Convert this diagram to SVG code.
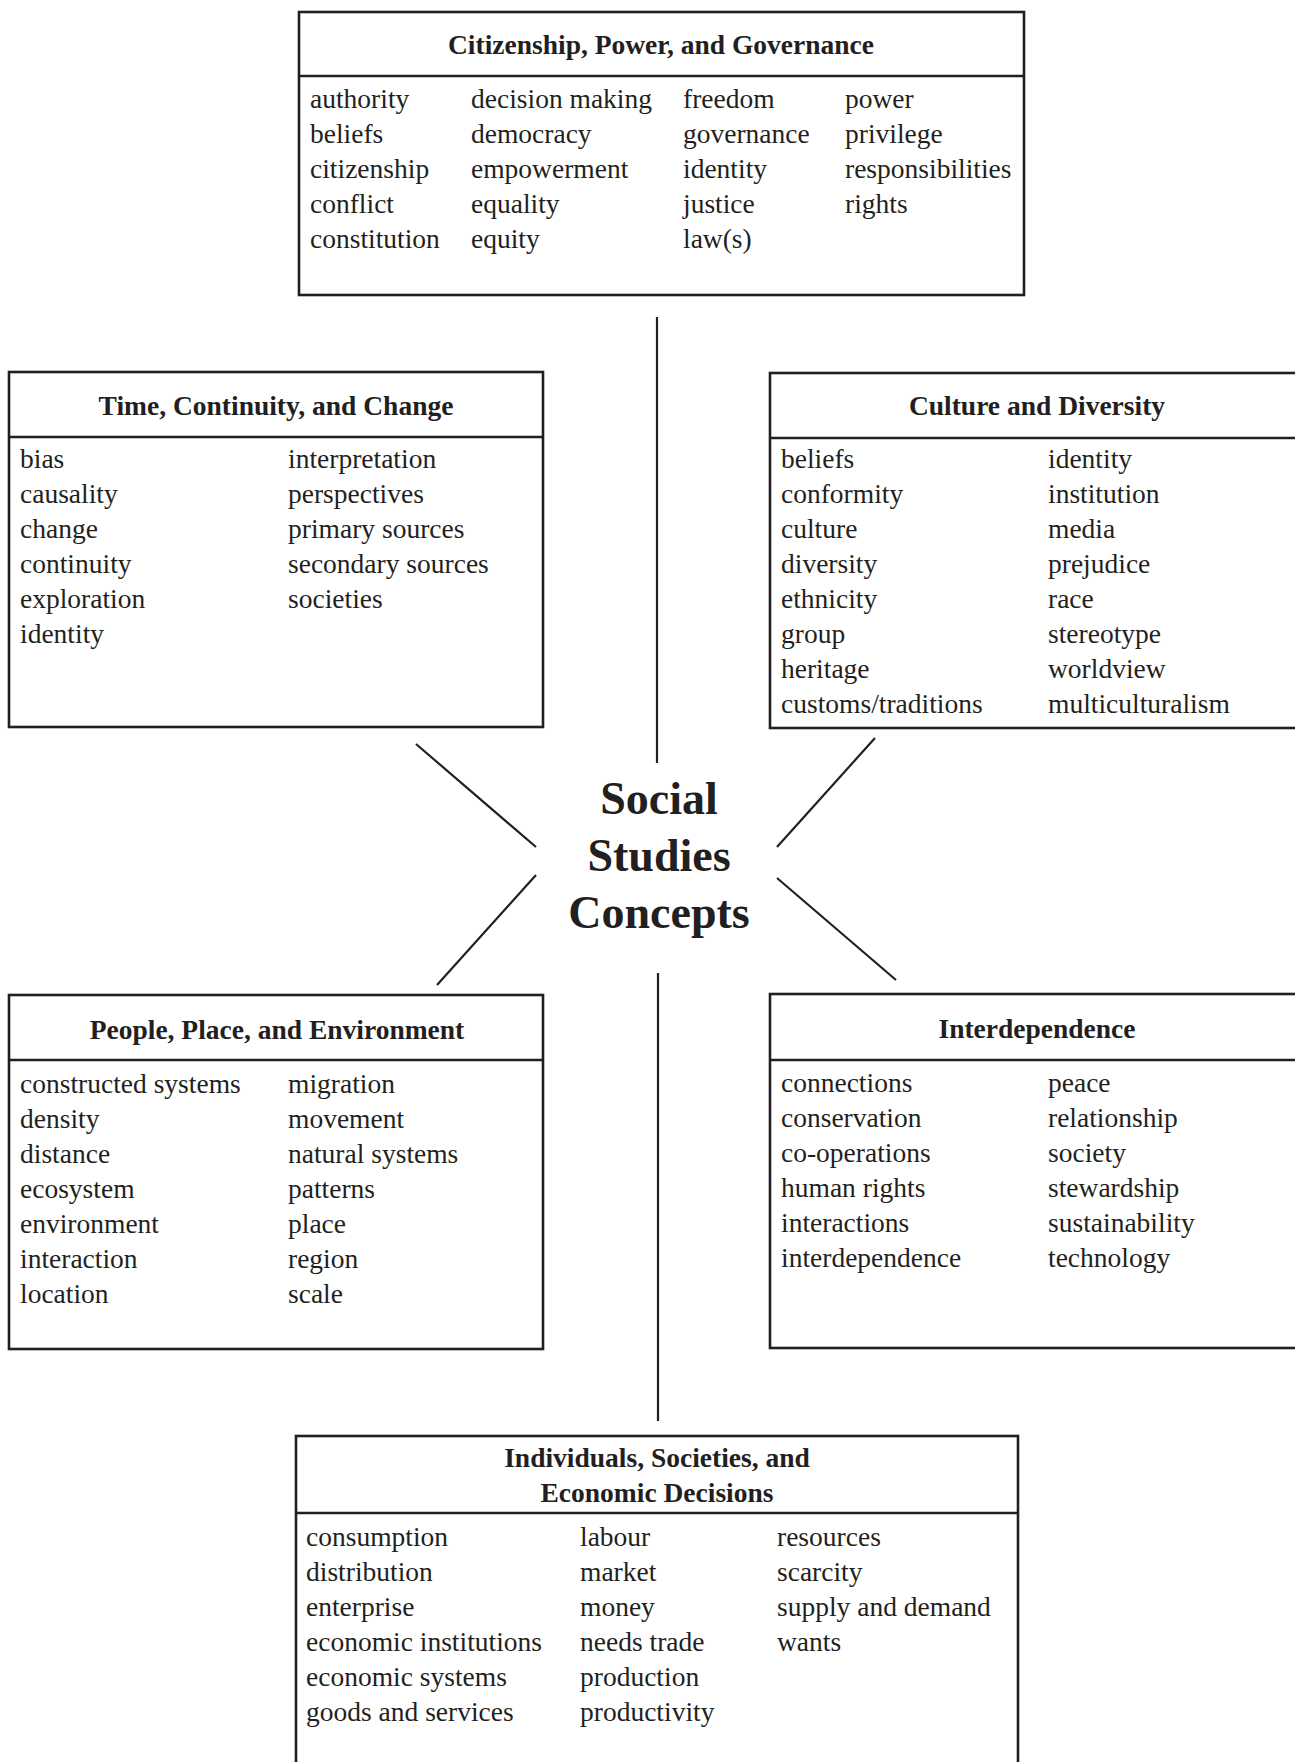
<svg xmlns="http://www.w3.org/2000/svg" width="1295" height="1762" viewBox="0 0 1295 1762">
<style>
  .box { fill: #ffffff; stroke: #231f20; stroke-width: 2.6; }
  .div { stroke: #231f20; stroke-width: 2.6; }
  .conn { stroke: #231f20; stroke-width: 2.2; fill: none; }
  .hd { font-family: "Liberation Serif", "Times New Roman", serif; font-weight: bold; font-size: 27.5px; fill: #231f20; text-anchor: middle; }
  .tx { font-family: "Liberation Serif", "Times New Roman", serif; font-size: 27.5px; fill: #231f20; }
  .ctr { font-family: "Liberation Serif", "Times New Roman", serif; font-weight: bold; font-size: 46px; fill: #231f20; text-anchor: middle; }
</style>
<rect x="0" y="0" width="1295" height="1762" fill="#ffffff"/>

<g id="connectors">
  <line class="conn" x1="657" y1="317" x2="657" y2="763"/>
  <line class="conn" x1="658" y1="973" x2="658" y2="1421"/>
  <line class="conn" x1="416" y1="744" x2="536" y2="847"/>
  <line class="conn" x1="536" y1="875" x2="437" y2="985"/>
  <line class="conn" x1="875" y1="738" x2="777" y2="847"/>
  <line class="conn" x1="777" y1="878" x2="896" y2="980"/>
</g>

<g id="center">
  <text class="ctr" x="659" y="814">Social</text>
  <text class="ctr" x="659" y="871">Studies</text>
  <text class="ctr" x="659" y="928">Concepts</text>
</g>

<g id="citizenship">
  <rect class="box" x="299" y="12" width="725" height="283"/>
  <line class="div" x1="299" y1="76" x2="1024" y2="76"/>
  <text class="hd" x="661" y="54">Citizenship, Power, and Governance</text>
  <text class="tx" x="310" y="108">authority</text>
  <text class="tx" x="310" y="143">beliefs</text>
  <text class="tx" x="310" y="178">citizenship</text>
  <text class="tx" x="310" y="213">conflict</text>
  <text class="tx" x="310" y="248">constitution</text>
  <text class="tx" x="471" y="108">decision making</text>
  <text class="tx" x="471" y="143">democracy</text>
  <text class="tx" x="471" y="178">empowerment</text>
  <text class="tx" x="471" y="213">equality</text>
  <text class="tx" x="471" y="248">equity</text>
  <text class="tx" x="683" y="108">freedom</text>
  <text class="tx" x="683" y="143">governance</text>
  <text class="tx" x="683" y="178">identity</text>
  <text class="tx" x="683" y="213">justice</text>
  <text class="tx" x="683" y="248">law(s)</text>
  <text class="tx" x="845" y="108">power</text>
  <text class="tx" x="845" y="143">privilege</text>
  <text class="tx" x="845" y="178">responsibilities</text>
  <text class="tx" x="845" y="213">rights</text>
</g>

<g id="time">
  <rect class="box" x="9" y="372" width="534" height="355"/>
  <line class="div" x1="9" y1="437" x2="543" y2="437"/>
  <text class="hd" x="276" y="415">Time, Continuity, and Change</text>
  <text class="tx" x="20" y="468">bias</text>
  <text class="tx" x="20" y="503">causality</text>
  <text class="tx" x="20" y="538">change</text>
  <text class="tx" x="20" y="573">continuity</text>
  <text class="tx" x="20" y="608">exploration</text>
  <text class="tx" x="20" y="643">identity</text>
  <text class="tx" x="288" y="468">interpretation</text>
  <text class="tx" x="288" y="503">perspectives</text>
  <text class="tx" x="288" y="538">primary sources</text>
  <text class="tx" x="288" y="573">secondary sources</text>
  <text class="tx" x="288" y="608">societies</text>
</g>

<g id="culture">
  <rect class="box" x="770" y="373" width="540" height="355"/>
  <line class="div" x1="770" y1="438" x2="1310" y2="438"/>
  <text class="hd" x="1037" y="415">Culture and Diversity</text>
  <text class="tx" x="781" y="468">beliefs</text>
  <text class="tx" x="781" y="503">conformity</text>
  <text class="tx" x="781" y="538">culture</text>
  <text class="tx" x="781" y="573">diversity</text>
  <text class="tx" x="781" y="608">ethnicity</text>
  <text class="tx" x="781" y="643">group</text>
  <text class="tx" x="781" y="678">heritage</text>
  <text class="tx" x="781" y="713">customs/traditions</text>
  <text class="tx" x="1048" y="468">identity</text>
  <text class="tx" x="1048" y="503">institution</text>
  <text class="tx" x="1048" y="538">media</text>
  <text class="tx" x="1048" y="573">prejudice</text>
  <text class="tx" x="1048" y="608">race</text>
  <text class="tx" x="1048" y="643">stereotype</text>
  <text class="tx" x="1048" y="678">worldview</text>
  <text class="tx" x="1048" y="713">multiculturalism</text>
</g>

<g id="people">
  <rect class="box" x="9" y="995" width="534" height="354"/>
  <line class="div" x1="9" y1="1060" x2="543" y2="1060"/>
  <text class="hd" x="277" y="1039">People, Place, and Environment</text>
  <text class="tx" x="20" y="1093">constructed systems</text>
  <text class="tx" x="20" y="1128">density</text>
  <text class="tx" x="20" y="1163">distance</text>
  <text class="tx" x="20" y="1198">ecosystem</text>
  <text class="tx" x="20" y="1233">environment</text>
  <text class="tx" x="20" y="1268">interaction</text>
  <text class="tx" x="20" y="1303">location</text>
  <text class="tx" x="288" y="1093">migration</text>
  <text class="tx" x="288" y="1128">movement</text>
  <text class="tx" x="288" y="1163">natural systems</text>
  <text class="tx" x="288" y="1198">patterns</text>
  <text class="tx" x="288" y="1233">place</text>
  <text class="tx" x="288" y="1268">region</text>
  <text class="tx" x="288" y="1303">scale</text>
</g>

<g id="interdependence">
  <rect class="box" x="770" y="994" width="540" height="354"/>
  <line class="div" x1="770" y1="1060" x2="1310" y2="1060"/>
  <text class="hd" x="1037" y="1038">Interdependence</text>
  <text class="tx" x="781" y="1092">connections</text>
  <text class="tx" x="781" y="1127">conservation</text>
  <text class="tx" x="781" y="1162">co-operations</text>
  <text class="tx" x="781" y="1197">human rights</text>
  <text class="tx" x="781" y="1232">interactions</text>
  <text class="tx" x="781" y="1267">interdependence</text>
  <text class="tx" x="1048" y="1092">peace</text>
  <text class="tx" x="1048" y="1127">relationship</text>
  <text class="tx" x="1048" y="1162">society</text>
  <text class="tx" x="1048" y="1197">stewardship</text>
  <text class="tx" x="1048" y="1232">sustainability</text>
  <text class="tx" x="1048" y="1267">technology</text>
</g>

<g id="individuals">
  <rect class="box" x="296" y="1436" width="722" height="380"/>
  <line class="div" x1="296" y1="1513" x2="1018" y2="1513"/>
  <text class="hd" x="657" y="1467">Individuals, Societies, and</text>
  <text class="hd" x="657" y="1502">Economic Decisions</text>
  <text class="tx" x="306" y="1546">consumption</text>
  <text class="tx" x="306" y="1581">distribution</text>
  <text class="tx" x="306" y="1616">enterprise</text>
  <text class="tx" x="306" y="1651">economic institutions</text>
  <text class="tx" x="306" y="1686">economic systems</text>
  <text class="tx" x="306" y="1721">goods and services</text>
  <text class="tx" x="580" y="1546">labour</text>
  <text class="tx" x="580" y="1581">market</text>
  <text class="tx" x="580" y="1616">money</text>
  <text class="tx" x="580" y="1651">needs trade</text>
  <text class="tx" x="580" y="1686">production</text>
  <text class="tx" x="580" y="1721">productivity</text>
  <text class="tx" x="777" y="1546">resources</text>
  <text class="tx" x="777" y="1581">scarcity</text>
  <text class="tx" x="777" y="1616">supply and demand</text>
  <text class="tx" x="777" y="1651">wants</text>
</g>
</svg>
